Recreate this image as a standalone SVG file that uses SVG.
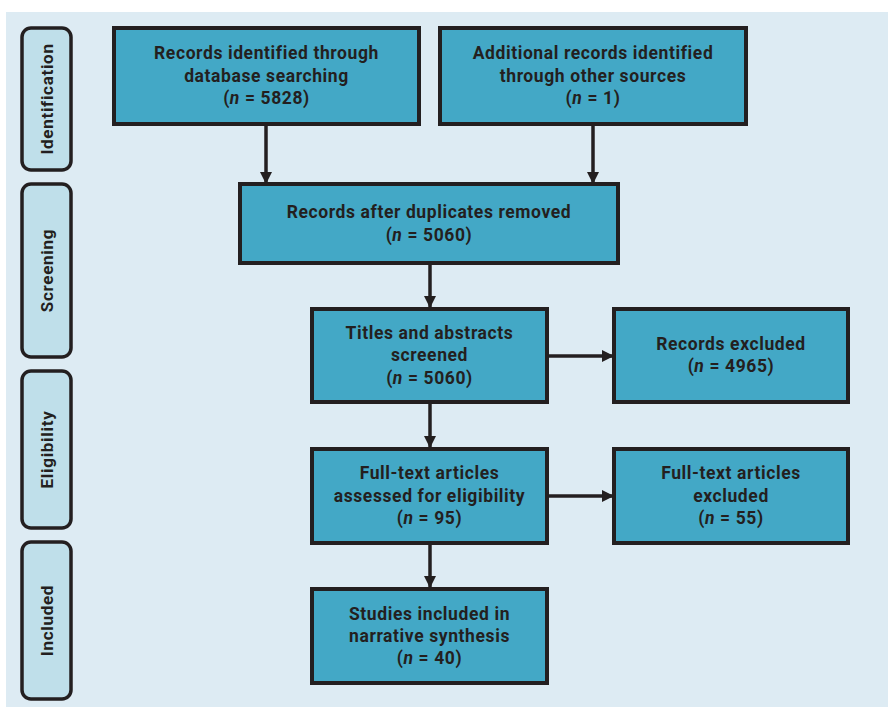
<svg xmlns="http://www.w3.org/2000/svg" width="888" height="707" viewBox="0 0 888 707">
<defs>
<style>
.bg{fill:#ddebf3}
.side{fill:#bfdfea;stroke:#231f20;stroke-width:3.5}
.box{fill:#43a8c6;stroke:#231f20;stroke-width:4}
.t{font-family:Roboto,"Liberation Sans",sans-serif;font-weight:bold;font-size:17.5px;letter-spacing:0.6px;fill:#231f20;text-anchor:middle}
.st{font-family:Roboto,"Liberation Sans",sans-serif;font-weight:bold;font-size:17px;letter-spacing:0.7px;fill:#231f20;text-anchor:middle}
.c{stroke:#231f20;stroke-width:3.5;fill:none;marker-end:url(#ah)}
</style>
<marker id="ah" viewBox="0 0 10 10" refX="10" refY="5" markerUnits="userSpaceOnUse" markerWidth="12" markerHeight="15" orient="auto">
<path d="M0,0 L10,5 L0,10 Z" fill="#231f20"/>
</marker>
</defs>
<rect class="bg" x="6" y="12" width="882" height="695"/>
<g id="lbl-identification"><rect class="side" x="22" y="28" width="49" height="142" rx="9"/><text class="st" transform="translate(53,99) rotate(-90)">Identification</text></g>
<g id="lbl-screening"><rect class="side" x="22" y="184" width="49" height="173" rx="9"/><text class="st" transform="translate(53,270.5) rotate(-90)">Screening</text></g>
<g id="lbl-eligibility"><rect class="side" x="22" y="371" width="49" height="157" rx="9"/><text class="st" transform="translate(53,449.5) rotate(-90)">Eligibility</text></g>
<g id="lbl-included"><rect class="side" x="22" y="542" width="49" height="157" rx="9"/><text class="st" transform="translate(53,620.5) rotate(-90)">Included</text></g>
<g id="connectors">
<line class="c" x1="266" y1="124" x2="266" y2="184"/>
<line class="c" x1="593" y1="124" x2="593" y2="184"/>
<line class="c" x1="430" y1="263" x2="430" y2="308"/>
<line class="c" x1="430" y1="402" x2="430" y2="448"/>
<line class="c" x1="430" y1="543" x2="430" y2="588"/>
<line class="c" x1="547" y1="356" x2="614" y2="356"/>
<line class="c" x1="547" y1="496" x2="614" y2="496"/>
</g>
<g id="n1"><rect class="box" x="114" y="28" width="305" height="96"/><text class="t" x="266.5" y="59">Records identified through</text><text class="t" x="266.5" y="82">database searching</text><text class="t" x="266.5" y="104">(<tspan font-style="italic">n</tspan> = 5828)</text></g>
<g id="n2"><rect class="box" x="440" y="28" width="306" height="96"/><text class="t" x="593" y="59">Additional records identified</text><text class="t" x="593" y="82">through other sources</text><text class="t" x="593" y="104">(<tspan font-style="italic">n</tspan> = 1)</text></g>
<g id="n3"><rect class="box" x="240" y="184" width="378" height="79"/><text class="t" x="429" y="218">Records after duplicates removed</text><text class="t" x="429" y="241">(<tspan font-style="italic">n</tspan> = 5060)</text></g>
<g id="n4"><rect class="box" x="312" y="309" width="235" height="93"/><text class="t" x="429.5" y="339">Titles and abstracts</text><text class="t" x="429.5" y="361">screened</text><text class="t" x="429.5" y="384">(<tspan font-style="italic">n</tspan> = 5060)</text></g>
<g id="n5"><rect class="box" x="614" y="309" width="234" height="93"/><text class="t" x="731" y="350">Records excluded</text><text class="t" x="731" y="372">(<tspan font-style="italic">n</tspan> = 4965)</text></g>
<g id="n6"><rect class="box" x="312" y="449" width="235" height="94"/><text class="t" x="429.5" y="479">Full-text articles</text><text class="t" x="429.5" y="502">assessed for eligibility</text><text class="t" x="429.5" y="524">(<tspan font-style="italic">n</tspan> = 95)</text></g>
<g id="n7"><rect class="box" x="614" y="449" width="234" height="94"/><text class="t" x="731" y="479">Full-text articles</text><text class="t" x="731" y="502">excluded</text><text class="t" x="731" y="524">(<tspan font-style="italic">n</tspan> = 55)</text></g>
<g id="n8"><rect class="box" x="312" y="589" width="235" height="94"/><text class="t" x="429.5" y="620">Studies included in</text><text class="t" x="429.5" y="642">narrative synthesis</text><text class="t" x="429.5" y="664">(<tspan font-style="italic">n</tspan> = 40)</text></g>
</svg>
